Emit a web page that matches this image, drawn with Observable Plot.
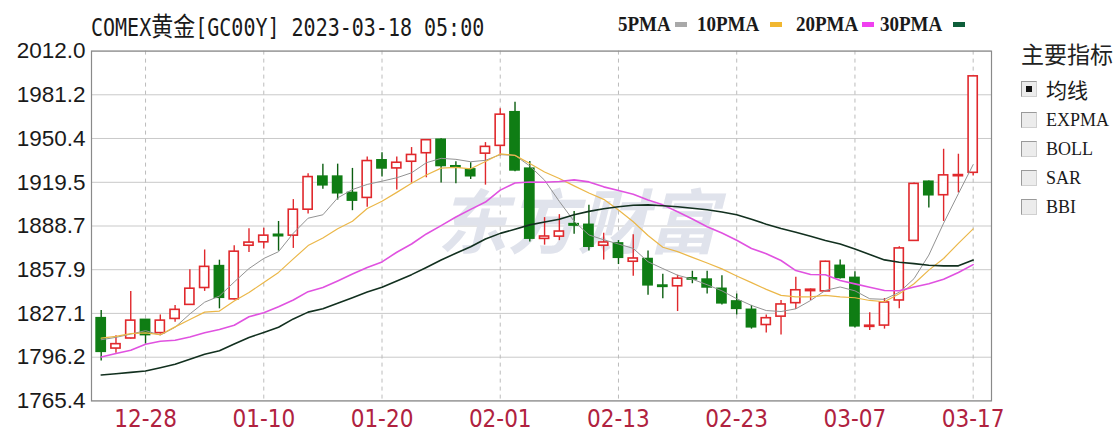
<!DOCTYPE html>
<html><head><meta charset="utf-8">
<script src="https://cdn.jsdelivr.net/npm/d3@7"></script>
<script src="https://cdn.jsdelivr.net/npm/@observablehq/plot@0.6"></script>
<style>
body{margin:0;background:#fff;}
#wrap{position:relative;width:1120px;height:434px;overflow:hidden;background:#fff;}
#chart{position:absolute;left:0;top:0;}
.t{position:absolute;white-space:nowrap;height:24px;line-height:24px;color:#1a1a1a;}
#title{left:91px;top:12px;font-family:"DejaVu Sans Mono","Noto Sans CJK SC",monospace;font-size:20px;transform:scaleY(1.2);transform-origin:left center;}
#title .cjk{font-family:"Noto Sans CJK SC";font-size:22px;}
.lg{font-family:"Liberation Serif","DejaVu Serif",serif;font-size:19px;font-weight:bold;top:12px;transform:scaleY(1.1);transform-origin:left center;}
.sw{position:absolute;width:12px;height:5px;top:22px;}
#panel .h{position:absolute;left:1021px;top:40px;font-family:"Noto Sans CJK SC";font-size:23px;line-height:26px;color:#222;}
.item{position:absolute;left:1021px;height:16px;}
.box{position:absolute;left:0;top:0;width:14px;height:14px;border:1px solid #9a9a9a;border-right-color:#d0d0d0;border-bottom-color:#d0d0d0;background:#ececec;}
.box.on::after{content:"";position:absolute;left:4px;top:4px;width:6px;height:6px;background:#111;}
.lab{position:absolute;left:25px;top:-5px;line-height:26px;white-space:nowrap;color:#1a1a1a;font-family:"Liberation Serif","DejaVu Serif",serif;font-size:18px;}
.lab.cjk{font-family:"Noto Sans CJK SC";font-size:21px;}
</style></head><body>
<div id="wrap">
  <div id="chart"></div>
  <div class="t" id="title">COMEX<span class="cjk">黄金</span>[GC00Y] 2023-03-18 05:00</div>
  <div id="legend"></div>
  <div id="panel"></div>
</div>
<script>
// ---- data ----
const dates = ["12-22","12-23","12-27","12-28","12-29","12-30",
 "01-03","01-04","01-05","01-06","01-09","01-10","01-11","01-12","01-13","01-16","01-17","01-18","01-19","01-20",
 "01-23","01-24","01-25","01-26","01-27","01-30","01-31",
 "02-01","02-02","02-03","02-06","02-07","02-08","02-09","02-10","02-13","02-14","02-15","02-16","02-17",
 "02-20","02-21","02-22","02-23","02-24","02-27","02-28",
 "03-01","03-02","03-03","03-06","03-07","03-08","03-09","03-10","03-13","03-14","03-15","03-16","03-17"];
const open  = [1823.7,1802.3,1809.4,1822.5,1813.2,1823.2,1833.1,1845.0,1860.4,1837.0,1874.8,1877.2,1882.5,1881.9,1900.2,1923.5,1923.5,1912.0,1908.5,1935.0,1929.3,1934.0,1940.0,1949.5,1930.8,1928.6,1939.7,1945.2,1968.9,1929.1,1879.6,1881.2,1890.0,1889.5,1874.8,1876.4,1863.5,1865.4,1846.7,1846.2,1851.8,1850.9,1844.4,1835.5,1829.6,1818.9,1824.8,1834.3,1842.8,1842.6,1860.6,1852.1,1817.6,1818.5,1836.2,1878.2,1919.9,1910.4,1923.8,1926.2];
const high  = [1829.1,1811.4,1842.6,1822.8,1826.0,1832.7,1857.9,1871.8,1864.6,1874.8,1886.7,1887.1,1891.9,1907.3,1925.5,1932.3,1932.3,1929.3,1937.4,1940.4,1937.4,1944.0,1949.7,1950.2,1934.0,1933.3,1947.5,1971.3,1976.0,1934.1,1894.6,1896.7,1899.0,1903.3,1883.6,1878.4,1882.5,1871.0,1854.7,1854.0,1856.8,1856.8,1853.6,1840.8,1832.7,1826.0,1836.2,1852.5,1844.3,1863.9,1864.7,1856.4,1827.5,1837.6,1874.0,1919.0,1920.4,1942.8,1939.3,1994.2];
const low   = [1793.6,1799.0,1809.0,1805.4,1812.5,1820.8,1832.7,1842.6,1830.3,1836.5,1870.1,1872.5,1871.0,1872.9,1897.1,1914.6,1907.0,1899.5,1902.0,1923.2,1914.0,1919.0,1922.7,1919.0,1918.4,1921.5,1917.5,1938.1,1927.0,1877.4,1875.2,1878.4,1882.9,1871.0,1864.7,1861.5,1853.2,1839.8,1837.4,1828.4,1848.0,1840.7,1833.0,1826.0,1816.0,1813.2,1811.8,1829.9,1836.2,1842.4,1851.3,1816.8,1815.0,1816.0,1830.3,1877.8,1901.4,1891.9,1912.0,1923.9];
const close = [1800.0,1805.4,1822.0,1811.8,1822.0,1829.6,1844.5,1859.9,1838.1,1870.6,1877.0,1881.9,1881.5,1900.2,1923.2,1917.4,1911.8,1906.6,1934.5,1929.3,1933.3,1938.8,1949.2,1931.0,1929.8,1923.8,1944.5,1967.2,1927.9,1879.8,1881.3,1884.8,1889.0,1874.1,1877.1,1866.3,1865.8,1846.9,1845.8,1851.6,1851.0,1845.4,1834.2,1830.3,1817.3,1823.7,1833.4,1843.4,1843.8,1863.5,1852.1,1818.0,1818.4,1834.8,1872.9,1918.4,1910.4,1924.4,1924.6,1994.2];
const ma5  = [1808.5,1810.2,1812.5,1814.9,1811.8,1817.3,1826.7,1835.0,1839.3,1849.2,1858.7,1865.8,1870.6,1883.6,1894.2,1896.6,1908.5,1914.4,1918.0,1920.3,1922.7,1926.2,1933.3,1936.4,1935.7,1934.0,1935.0,1939.0,1938.5,1931.0,1921.0,1906.0,1892.0,1882.4,1879.0,1876.0,1872.9,1863.5,1858.7,1854.0,1851.2,1847.3,1843.0,1837.4,1832.7,1829.1,1828.4,1830.3,1836.2,1843.3,1845.7,1843.0,1837.4,1837.0,1842.0,1851.6,1868.2,1890.7,1911.5,1932.0];
const ma10 = [1809.6,1810.9,1812.8,1813.3,1812.1,1817.6,1822.8,1828.0,1828.7,1835.8,1841.8,1848.9,1856.0,1865.5,1874.9,1880.2,1886.8,1892.0,1901.0,1906.2,1912.4,1918.8,1924.7,1929.5,1930.0,1929.0,1934.2,1939.5,1938.5,1932.7,1926.8,1922.2,1917.0,1912.0,1907.5,1900.0,1891.7,1882.0,1873.7,1870.6,1866.6,1862.6,1858.5,1853.5,1848.8,1844.0,1839.8,1838.8,1838.8,1839.8,1838.8,1838.1,1836.2,1835.3,1841.0,1848.0,1857.6,1865.8,1876.5,1886.7];
const ma20 = [1796.4,1798.8,1801.1,1805.3,1807.5,1808.2,1810.5,1813.4,1815.7,1818.7,1824.7,1827.5,1831.8,1836.5,1842.4,1845.3,1850.0,1854.8,1859.5,1863.4,1870.2,1876.0,1883.1,1889.0,1895.0,1900.4,1905.6,1914.0,1919.0,1919.7,1919.5,1920.1,1921.2,1919.8,1916.3,1913.7,1911.1,1907.1,1903.6,1898.8,1893.6,1888.2,1883.7,1878.7,1872.8,1869.2,1864.4,1857.3,1854.5,1854.3,1850.3,1847.9,1845.5,1843.2,1843.0,1845.7,1848.0,1851.2,1855.9,1861.5];
const ma30 = [1783.7,1784.5,1785.5,1786.5,1788.8,1791.2,1794.8,1798.3,1800.7,1805.5,1810.1,1813.7,1817.3,1823.2,1828.0,1830.3,1834.3,1838.2,1842.1,1845.5,1850.0,1854.4,1859.5,1864.7,1869.5,1874.1,1879.5,1883.5,1886.4,1889.5,1891.5,1893.5,1896.6,1899.0,1900.9,1902.3,1903.3,1903.6,1903.0,1902.3,1901.2,1900.2,1898.6,1896.6,1893.4,1890.0,1887.0,1884.3,1881.5,1878.5,1876.0,1872.5,1868.6,1864.8,1863.2,1862.2,1861.0,1860.6,1860.6,1864.7];
const yTicks = [1765.4,1796.2,1827.1,1857.9,1888.7,1919.5,1950.4,1981.2,2012.0];
const xTickLabels = ["12-28","01-10","01-20","02-01","02-13","02-23","03-07","03-17"];
const maNames = ["5PMA","10PMA","20PMA","30PMA"];
const maLineColors = ["#939393","#ebb748","#e052e0","#12301f"];
const maSwatchColors = ["#a9a9a9","#f1b730","#f040f0","#0e5e3a"];
const indicators = ["均线","EXPMA","BOLL","SAR","BBI"];

// ---- build ----
const RED = "#e0282c", GREEN = "#0f7d14", GREENW = "#0b5e10";
const rows = dates.map((d,i)=>({i, d, o:open[i], h:high[i], l:low[i], c:close[i], up: close[i] >= open[i]}));
const xTicks = xTickLabels.map(s => dates.indexOf(s));
const mas = [ma5, ma10, ma20, ma30];
const maWidths = [1, 1.2, 1.6, 1.6];

const chart = Plot.plot({
  width: 1120, height: 434,
  marginLeft: 91, marginRight: 129, marginTop: 50.6, marginBottom: 33.6,
  x: {domain: [-0.656, 60.24], axis: null},
  y: {domain: [1765.4, 2012.0], axis: null},
  marks: [
    Plot.gridY(yTicks, {stroke: "#c9c9c9", strokeOpacity: 1}),
    Plot.gridX(xTicks, {stroke: "#bcbcbc", strokeOpacity: 1, strokeDasharray: "4,4"}),
    Plot.text(["东方财富"], {frameAnchor: "middle", text: d => d, dx: 36, fontSize: 70, fontWeight: "bold", fontStyle: "italic", fill: "#e0e3ec", fontFamily: "Noto Sans CJK SC"}),
    Plot.ruleX(rows, {x: "i", y1: "l", y2: "h", stroke: d => d.up ? RED : GREENW, strokeWidth: 1.4}),
    Plot.rect(rows, {x1: d => d.i - 0.31, x2: d => d.i + 0.31, y1: "o", y2: "c",
      fill: d => d.up ? "#ffffff" : GREEN, stroke: d => d.up ? RED : GREEN, strokeWidth: 1.6}),
    ...mas.map((m, k) => Plot.line(m, {x: (d, i) => i, y: d => d, stroke: maLineColors[k], strokeWidth: maWidths[k]})),
    Plot.frame({stroke: "#8a8a8a", strokeWidth: 1.2}),
    Plot.axisY(yTicks, {anchor: "left", tickSize: 0, tickPadding: 6, label: null, tickFormat: d => d.toFixed(1),
      fontSize: 22.5, fontFamily: "Liberation Sans, Arial, sans-serif", fill: "#1a1a1a"}),
    Plot.axisX(xTicks, {anchor: "bottom", tickSize: 0, tickPadding: 9, label: null, tickFormat: i => dates[i],
      fontSize: 24, fontFamily: "Liberation Sans Narrow, DejaVu Sans Condensed, sans-serif", fill: "#b0223f"})
  ]
});
document.getElementById("chart").appendChild(chart);

// legend
const lgPos = [[618, 675], [697, 770], [796, 862], [880, 953]];
const lg = document.getElementById("legend");
maNames.forEach((n, k) => {
  const t = document.createElement("div");
  t.className = "t lg"; t.style.left = lgPos[k][0] + "px"; t.textContent = n;
  lg.appendChild(t);
  const s = document.createElement("div");
  s.className = "sw"; s.style.left = lgPos[k][1] + "px"; s.style.background = maSwatchColors[k];
  lg.appendChild(s);
});

// right panel
const panel = document.getElementById("panel");
const h = document.createElement("div"); h.className = "h"; h.textContent = "主要指标"; panel.appendChild(h);
const itemY = [81, 112, 141, 170, 199];
indicators.forEach((n, k) => {
  const it = document.createElement("div"); it.className = "item"; it.style.top = itemY[k] + "px";
  const b = document.createElement("div"); b.className = "box" + (k === 0 ? " on" : ""); it.appendChild(b);
  const l = document.createElement("div"); l.className = "lab" + (k === 0 ? " cjk" : ""); l.textContent = n; it.appendChild(l);
  panel.appendChild(it);
});
</script>
</body></html>
